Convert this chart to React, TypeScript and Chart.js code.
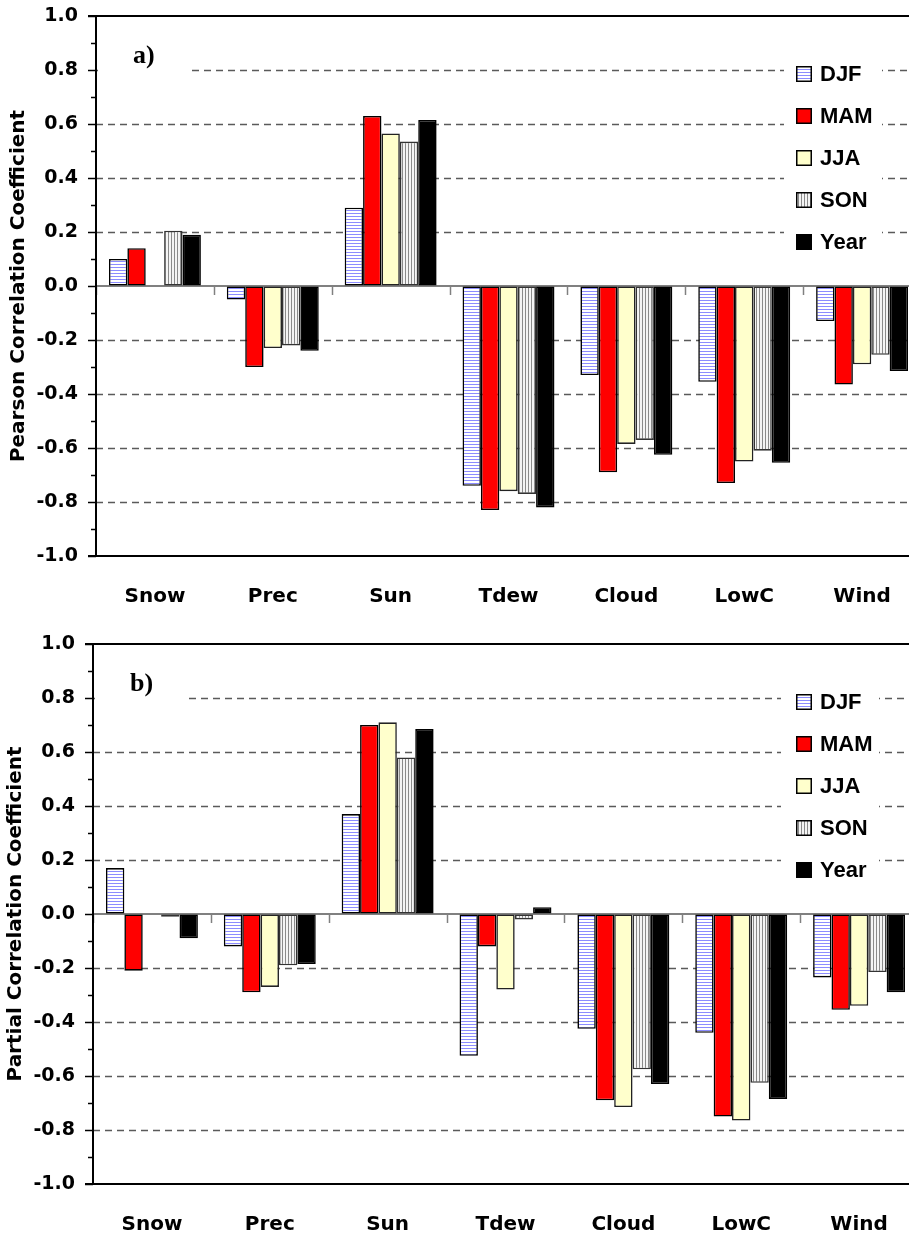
import React, { useEffect, useRef } from 'react';
import { Chart, registerables } from 'chart.js';

Chart.register(...registerables);

// Categories and y tick values
const categories = ['Snow', 'Prec', 'Sun', 'Tdew', 'Cloud', 'LowC', 'Wind'];
const seasonLabels = ['DJF', 'MAM', 'JJA', 'SON', 'Year'];
const yTickValues = [-1.0, -0.9, -0.8, -0.7, -0.6, -0.5, -0.4, -0.3, -0.2, -0.1, 0.0, 0.1, 0.2, 0.3, 0.4, 0.5, 0.6, 0.7, 0.8, 0.9, 1.0];

// a) Pearson correlation coefficients
const pearsonDJF = [0.10, -0.05, 0.29, -0.74, -0.33, -0.355, -0.13];
const pearsonMAM = [0.14, -0.30, 0.63, -0.83, -0.69, -0.73, -0.365];
const pearsonJJA = [null, -0.23, 0.565, -0.76, -0.585, -0.65, -0.29];
const pearsonSON = [0.205, -0.22, 0.535, -0.77, -0.57, -0.61, -0.255];
const pearsonYear = [0.19, -0.24, 0.615, -0.82, -0.625, -0.655, -0.315];

// b) Partial correlation coefficients
const partialDJF = [0.17, -0.12, 0.37, -0.525, -0.425, -0.44, -0.235];
const partialMAM = [-0.21, -0.29, 0.70, -0.12, -0.69, -0.75, -0.355];
const partialJJA = [null, -0.27, 0.71, -0.28, -0.715, -0.765, -0.34];
const partialSON = [-0.01, -0.19, 0.58, -0.02, -0.575, -0.625, -0.215];
const partialYear = [-0.09, -0.185, 0.685, 0.025, -0.63, -0.685, -0.29];

const TICK_FONT = { family: 'DejaVu Sans', weight: 'bold' as const, size: 19 };
const CAT_FONT = { family: 'DejaVu Sans', weight: 'bold' as const, size: 20 };
const TITLE_FONT = { family: 'DejaVu Sans', weight: 'bold' as const, size: 20 };

function makePattern(ctx: CanvasRenderingContext2D, kind: 'h' | 'v'): CanvasPattern | string {
  const c = document.createElement('canvas');
  const g = c.getContext('2d');
  if (!g) return '#fff';
  if (kind === 'h') {
    c.width = 4; c.height = 3;
    g.fillStyle = '#ffffff'; g.fillRect(0, 0, 4, 3);
    g.fillStyle = '#8c8cff'; g.fillRect(0, 0, 4, 1);
  } else {
    c.width = 3; c.height = 4;
    g.fillStyle = '#f4f4f4'; g.fillRect(0, 0, 3, 4);
    g.fillStyle = '#8a8a8a'; g.fillRect(0, 0, 1, 4);
  }
  return ctx.createPattern(c, 'repeat') || '#fff';
}

const isMajor = (v: number) => Math.round(v * 10) % 2 === 0;

// Grid, zero line, frame, tag and in-plot legend
const panelDecor = {
  id: 'panelDecor',
  beforeDatasetsDraw(chart: any) {
    const { ctx, chartArea } = chart;
    const ys = chart.scales.y;
    const xs = chart.scales.x;
    ctx.save();
    ctx.strokeStyle = '#5a5a5a';
    ctx.lineWidth = 1.5;
    ctx.setLineDash([7, 5]);
    yTickValues.forEach((v) => {
      if (!isMajor(v) || Math.abs(v) > 0.99 || Math.abs(v) < 0.01) return;
      const y = Math.round(ys.getPixelForValue(v)) + 0.5;
      ctx.beginPath();
      ctx.moveTo(chartArea.left, y);
      ctx.lineTo(chartArea.right, y);
      ctx.stroke();
    });
    ctx.setLineDash([]);
    const y0 = Math.round(ys.getPixelForValue(0));
    ctx.strokeStyle = '#808080';
    ctx.lineWidth = 2;
    ctx.beginPath();
    ctx.moveTo(chartArea.left, y0);
    ctx.lineTo(chartArea.right, y0);
    ctx.stroke();
    ctx.lineWidth = 1.5;
    for (let i = 0; i <= categories.length; i++) {
      const x = Math.round(xs.getPixelForValue(i - 0.5)) + 0.5;
      ctx.beginPath();
      ctx.moveTo(x, y0);
      ctx.lineTo(x, y0 + 9);
      ctx.stroke();
    }
    ctx.restore();
  },
  afterDatasetsDraw(chart: any, _args: any, opts: any) {
    const { ctx, chartArea } = chart;
    const ys = chart.scales.y;
    const L = chartArea.left;
    const T = chartArea.top;
    ctx.save();

    // panel tag
    ctx.fillStyle = '#ffffff';
    ctx.fillRect(L + 2, T + 22, 92, 44);
    ctx.fillStyle = '#000';
    ctx.font = 'bold 26px "Liberation Serif"';
    ctx.textBaseline = 'alphabetic';
    ctx.textAlign = 'left';
    ctx.fillText(opts.tag, L + opts.tagDx, T + 47);

    // legend
    ctx.fillStyle = '#ffffff';
    ctx.fillRect(L + 688, T + 34, 98, 214);
    chart.data.datasets.forEach((ds: any, i: number) => {
      const cy = T + 58 + i * 42;
      const sx = L + opts.legendDx;
      ctx.fillStyle = ds.backgroundColor;
      ctx.fillRect(sx, cy - 8, 16, 16);
      ctx.strokeStyle = '#000';
      ctx.lineWidth = 1.5;
      ctx.strokeRect(sx + 0.75, cy - 7.25, 14.5, 14.5);
      ctx.fillStyle = '#000';
      ctx.font = 'bold 22px "Liberation Sans"';
      ctx.textBaseline = 'middle';
      ctx.textAlign = 'left';
      ctx.fillText(ds.label, sx + 24, cy + 1);
    });

    // frame
    ctx.strokeStyle = '#000';
    ctx.lineWidth = 2;
    ctx.beginPath();
    ctx.moveTo(L - 8, chartArea.top);
    ctx.lineTo(chartArea.right, chartArea.top);
    ctx.moveTo(L - 8, chartArea.bottom);
    ctx.lineTo(chartArea.right, chartArea.bottom);
    ctx.moveTo(L, chartArea.top - 1);
    ctx.lineTo(L, chartArea.bottom + 1);
    ctx.stroke();

    // y ticks: long at labelled values, short between
    ctx.lineWidth = 1.5;
    yTickValues.forEach((v) => {
      const y = Math.round(ys.getPixelForValue(v)) + 0.5;
      const len = isMajor(v) ? 8 : 5;
      ctx.beginPath();
      ctx.moveTo(L - len, y);
      ctx.lineTo(L, y);
      ctx.stroke();
    });
    ctx.restore();
  },
};

type PanelProps = {
  series: (number | null)[][];
  title: string;
  tag: string;
  top: number;
  left: number;
  tagDx: number;
  legendDx: number;
};

function Panel({ series, title, tag, top, left, tagDx, legendDx }: PanelProps) {
  const ref = useRef<HTMLCanvasElement | null>(null);
  useEffect(() => {
    const canvas = ref.current;
    if (!canvas) return;
    const ctx = canvas.getContext('2d');
    if (!ctx) return;
    const fills = [makePattern(ctx, 'h'), '#ff0000', '#ffffcc', makePattern(ctx, 'v'), '#000000'];
    const borders = ['#000', '#000', '#222', '#333', '#000'];
    const chart = new Chart(canvas, {
      type: 'bar',
      data: {
        labels: categories,
        datasets: series.map((data, i) => ({
          label: seasonLabels[i],
          data,
          backgroundColor: fills[i] as any,
          borderColor: borders[i],
          borderWidth: 1.6,
          borderSkipped: false,
          categoryPercentage: 0.78,
          barPercentage: 1.0,
        })),
      },
      options: {
        animation: false,
        responsive: false,
        devicePixelRatio: 1,
        layout: { padding: { top: 16, right: 9, left: 0, bottom: 0 } },
        plugins: {
          legend: { display: false },
          tooltip: { enabled: false },
          panelDecor: { tag, tagDx, legendDx },
        } as any,
        scales: {
          x: {
            grid: { display: false, drawTicks: false },
            border: { display: false },
            ticks: { font: CAT_FONT, color: '#000', padding: 29, maxRotation: 0, autoSkip: false },
            afterFit: (s: any) => { s.height = 64; s.paddingLeft = 0; s.paddingRight = 0; },
          },
          y: {
            min: -1,
            max: 1,
            afterBuildTicks: (s: any) => { s.ticks = yTickValues.map((v) => ({ value: v })); },
            ticks: {
              font: TICK_FONT,
              color: '#000',
              padding: 10,
              autoSkip: false,
              callback: (v: any) => (isMajor(Number(v)) ? Number(v).toFixed(1) : ''),
            },
            grid: { drawOnChartArea: false, drawTicks: true, tickLength: 8, tickColor: 'rgba(0,0,0,0)' },
            border: { display: false },
            title: { display: true, text: title, font: TITLE_FONT, color: '#000', padding: { top: 7, bottom: 0 } },
            afterFit: (s: any) => { s.width = 96; s.paddingTop = 0; s.paddingBottom = 0; },
          },
        },
      },
      plugins: [panelDecor as any],
    });
    return () => chart.destroy();
  }, [series, title, tag, tagDx, legendDx]);

  return (
    <canvas
      ref={ref}
      width={930}
      height={620}
      style={{ position: 'absolute', left, top, width: 930, height: 620 }}
    />
  );
}

const pearsonSeries = [pearsonDJF, pearsonMAM, pearsonJJA, pearsonSON, pearsonYear];
const partialSeries = [partialDJF, partialMAM, partialJJA, partialSON, partialYear];

export default function App() {
  return (
    <div
      style={{
        position: 'fixed',
        left: 0,
        top: 0,
        width: 909,
        height: 1238,
        overflow: 'hidden',
        background: '#ffffff',
      }}
    >
      <Panel series={pearsonSeries} title="Pearson Correlation Coefficient" tag="a)" top={0} left={0} tagDx={37} legendDx={700} />
      <Panel series={partialSeries} title="Partial Correlation Coefficient" tag="b)" top={628} left={-3} tagDx={37} legendDx={703} />
    </div>
  );
}
